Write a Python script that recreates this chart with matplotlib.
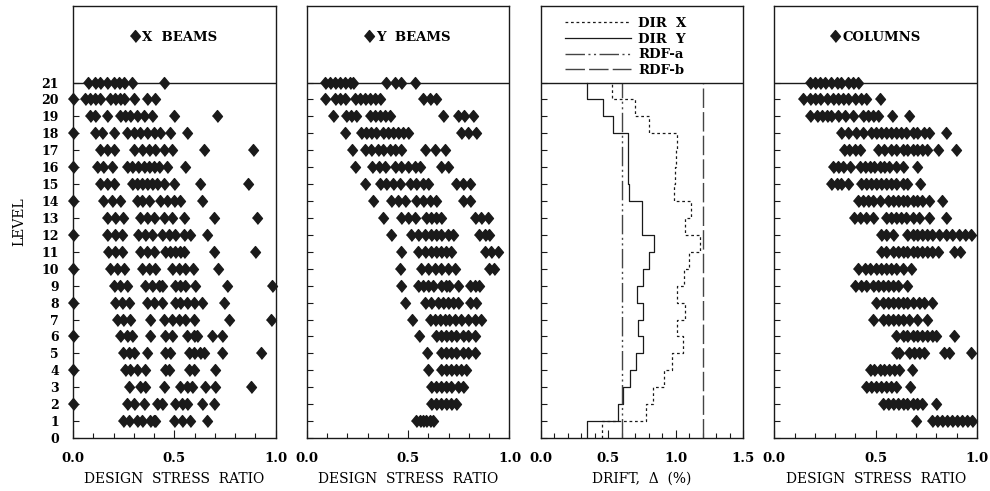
import matplotlib.pyplot as plt
import numpy as np
from matplotlib.ticker import MultipleLocator

plt.rcParams["font.family"] = ["DejaVu Serif", "DejaVu Sans"]
plt.rcParams["font.weight"] = "bold"
plt.rcParams["axes.linewidth"] = 1.0

LEVELS = list(range(1, 22))

# design stress ratio of every member, one list per level (level 1 first)
X_BEAMS = [
    [0.249, 0.274, 0.315, 0.340, 0.381, 0.398, 0.406, 0.497, 0.538, 0.579, 0.662],
    [0.0, 0.266, 0.299, 0.348, 0.414, 0.439, 0.505, 0.538, 0.563, 0.637, 0.695],
    [0.274, 0.332, 0.356, 0.447, 0.530, 0.563, 0.587, 0.653, 0.703, 0.876],
    [0.0, 0.257, 0.282, 0.315, 0.356, 0.455, 0.472, 0.571, 0.596, 0.703],
    [0.249, 0.274, 0.299, 0.365, 0.455, 0.480, 0.571, 0.596, 0.629, 0.645, 0.736, 0.926],
    [0.0, 0.233, 0.266, 0.290, 0.381, 0.455, 0.488, 0.563, 0.596, 0.612, 0.686, 0.736],
    [0.216, 0.249, 0.282, 0.381, 0.447, 0.488, 0.521, 0.554, 0.596, 0.769, 0.975],
    [0.0, 0.208, 0.241, 0.274, 0.365, 0.398, 0.439, 0.505, 0.530, 0.563, 0.596, 0.637, 0.744],
    [0.200, 0.233, 0.266, 0.356, 0.389, 0.422, 0.439, 0.505, 0.530, 0.554, 0.604, 0.761, 0.984],
    [0.0, 0.183, 0.216, 0.252, 0.340, 0.373, 0.406, 0.488, 0.521, 0.554, 0.592, 0.714],
    [0.175, 0.208, 0.241, 0.332, 0.365, 0.398, 0.455, 0.480, 0.505, 0.530, 0.546, 0.695, 0.896],
    [0.0, 0.167, 0.208, 0.241, 0.323, 0.356, 0.389, 0.439, 0.472, 0.505, 0.546, 0.579, 0.662],
    [0.167, 0.208, 0.249, 0.332, 0.365, 0.398, 0.447, 0.488, 0.546, 0.695, 0.906],
    [0.0, 0.150, 0.191, 0.233, 0.315, 0.340, 0.373, 0.431, 0.464, 0.497, 0.530, 0.637],
    [0.134, 0.167, 0.200, 0.290, 0.315, 0.340, 0.365, 0.389, 0.414, 0.447, 0.497, 0.629, 0.863],
    [0.0, 0.117, 0.150, 0.191, 0.266, 0.290, 0.323, 0.348, 0.373, 0.398, 0.422, 0.464, 0.554],
    [0.134, 0.167, 0.200, 0.299, 0.340, 0.373, 0.406, 0.447, 0.488, 0.645, 0.888],
    [0.0, 0.109, 0.142, 0.200, 0.266, 0.299, 0.332, 0.365, 0.398, 0.431, 0.480, 0.563],
    [0.084, 0.109, 0.167, 0.233, 0.257, 0.282, 0.315, 0.348, 0.389, 0.497, 0.711],
    [0.0, 0.059, 0.084, 0.109, 0.134, 0.183, 0.208, 0.233, 0.252, 0.299, 0.365, 0.406],
    [0.076, 0.109, 0.134, 0.167, 0.200, 0.229, 0.252, 0.290, 0.447],
]

Y_BEAMS = [
    [0.540, 0.557, 0.573, 0.589, 0.606, 0.622],
    [0.614, 0.639, 0.664, 0.688, 0.713, 0.737],
    [0.614, 0.639, 0.664, 0.688, 0.713, 0.745, 0.770],
    [0.598, 0.664, 0.688, 0.713, 0.737, 0.762, 0.787],
    [0.593, 0.664, 0.688, 0.713, 0.737, 0.770, 0.795, 0.828],
    [0.552, 0.639, 0.664, 0.688, 0.713, 0.737, 0.770, 0.795, 0.828],
    [0.519, 0.606, 0.631, 0.655, 0.680, 0.704, 0.729, 0.762, 0.795, 0.828, 0.861],
    [0.483, 0.581, 0.614, 0.647, 0.672, 0.696, 0.721, 0.745, 0.803, 0.836],
    [0.463, 0.548, 0.573, 0.598, 0.622, 0.664, 0.688, 0.704, 0.745, 0.803, 0.828, 0.852],
    [0.458, 0.565, 0.598, 0.631, 0.664, 0.696, 0.729, 0.901, 0.926],
    [0.463, 0.548, 0.581, 0.614, 0.639, 0.664, 0.688, 0.713, 0.877, 0.910, 0.942],
    [0.414, 0.516, 0.548, 0.581, 0.614, 0.639, 0.664, 0.696, 0.721, 0.852, 0.877, 0.901],
    [0.376, 0.466, 0.499, 0.532, 0.589, 0.614, 0.639, 0.664, 0.828, 0.861, 0.893],
    [0.327, 0.417, 0.450, 0.483, 0.540, 0.573, 0.606, 0.639, 0.770, 0.803],
    [0.286, 0.360, 0.393, 0.425, 0.458, 0.507, 0.540, 0.573, 0.598, 0.737, 0.770, 0.803],
    [0.240, 0.322, 0.355, 0.384, 0.433, 0.466, 0.499, 0.532, 0.557, 0.664, 0.696],
    [0.223, 0.286, 0.319, 0.351, 0.376, 0.409, 0.433, 0.466, 0.581, 0.631, 0.683],
    [0.191, 0.269, 0.294, 0.319, 0.343, 0.376, 0.401, 0.425, 0.450, 0.475, 0.499, 0.762, 0.795, 0.836],
    [0.130, 0.195, 0.220, 0.245, 0.310, 0.335, 0.360, 0.384, 0.409, 0.672, 0.745, 0.778, 0.819],
    [0.089, 0.138, 0.163, 0.187, 0.236, 0.261, 0.286, 0.310, 0.335, 0.360, 0.573, 0.606, 0.639],
    [0.089, 0.113, 0.138, 0.163, 0.187, 0.212, 0.228, 0.393, 0.433, 0.466, 0.535],
]

COLUMNS = [
    [0.698, 0.780, 0.804, 0.829, 0.853, 0.878, 0.902, 0.927, 0.951, 0.976],
    [0.535, 0.560, 0.584, 0.608, 0.633, 0.657, 0.682, 0.706, 0.728, 0.796],
    [0.453, 0.478, 0.502, 0.527, 0.551, 0.576, 0.600, 0.669],
    [0.470, 0.494, 0.519, 0.543, 0.568, 0.592, 0.617, 0.678],
    [0.600, 0.615, 0.665, 0.690, 0.714, 0.739, 0.837, 0.861, 0.972],
    [0.600, 0.633, 0.657, 0.682, 0.706, 0.731, 0.755, 0.780, 0.799, 0.886],
    [0.486, 0.535, 0.560, 0.584, 0.608, 0.633, 0.665, 0.706, 0.755],
    [0.502, 0.535, 0.560, 0.584, 0.608, 0.633, 0.657, 0.682, 0.714, 0.739, 0.776],
    [0.396, 0.429, 0.453, 0.486, 0.511, 0.535, 0.560, 0.584, 0.608, 0.657],
    [0.413, 0.445, 0.470, 0.502, 0.527, 0.551, 0.576, 0.600, 0.633, 0.674],
    [0.527, 0.551, 0.584, 0.608, 0.633, 0.657, 0.682, 0.706, 0.731, 0.755, 0.780, 0.809, 0.886, 0.918],
    [0.527, 0.551, 0.584, 0.657, 0.682, 0.706, 0.731, 0.755, 0.780, 0.812, 0.845, 0.878, 0.910, 0.943, 0.972],
    [0.391, 0.421, 0.453, 0.486, 0.551, 0.576, 0.600, 0.625, 0.649, 0.682, 0.714, 0.763, 0.845],
    [0.413, 0.437, 0.462, 0.486, 0.519, 0.560, 0.584, 0.608, 0.633, 0.657, 0.682, 0.706, 0.731, 0.763, 0.829],
    [0.282, 0.307, 0.331, 0.364, 0.429, 0.453, 0.478, 0.502, 0.527, 0.551, 0.576, 0.600, 0.633, 0.657, 0.718],
    [0.291, 0.315, 0.340, 0.372, 0.421, 0.445, 0.470, 0.494, 0.519, 0.543, 0.568, 0.600, 0.633, 0.702],
    [0.343, 0.369, 0.396, 0.421, 0.511, 0.543, 0.576, 0.600, 0.633, 0.657, 0.682, 0.706, 0.731, 0.755, 0.809, 0.897],
    [0.331, 0.364, 0.404, 0.437, 0.478, 0.502, 0.527, 0.551, 0.576, 0.600, 0.625, 0.649, 0.682, 0.706, 0.739, 0.763, 0.845],
    [0.176, 0.209, 0.233, 0.258, 0.282, 0.315, 0.348, 0.388, 0.437, 0.462, 0.486, 0.511, 0.581, 0.662],
    [0.140, 0.176, 0.201, 0.225, 0.258, 0.291, 0.315, 0.340, 0.364, 0.396, 0.429, 0.453, 0.519],
    [0.176, 0.201, 0.225, 0.250, 0.282, 0.307, 0.331, 0.364, 0.388, 0.413],
]

# interstory drift (%) of stories 1..21
DRIFT_X = [0.452, 0.779, 0.831, 0.910, 0.972, 1.053, 1.013, 1.071, 1.013, 1.058, 1.095,
           1.177, 1.071, 1.113, 0.990, 0.995, 1.000, 1.010, 0.803, 0.700, 0.527]
DRIFT_Y = [0.341, 0.571, 0.613, 0.662, 0.705, 0.761, 0.724, 0.761, 0.717, 0.761, 0.803,
           0.841, 0.749, 0.749, 0.655, 0.650, 0.645, 0.650, 0.534, 0.460, 0.346]
RDF_A = 0.6
RDF_B = 1.2

INK = "#1a1a1a"
DIAMOND = [(-0.42, 0.0), (0.0, 0.5), (0.42, 0.0), (0.0, -0.5)]
TOP = 25.53


def style_ax(ax, xmax):
    ax.set_xlim(0, xmax)
    ax.set_ylim(0, TOP)
    ax.axhline(21, color=INK, lw=1.0)
    ax.set_yticks(range(0, 22))
    ax.xaxis.set_major_locator(MultipleLocator(0.5))
    ax.xaxis.set_minor_locator(MultipleLocator(0.1))
    ax.xaxis.set_major_formatter(plt.FormatStrFormatter("%.1f"))
    ax.tick_params(which="both", direction="in", color=INK, width=0.8)
    ax.tick_params(axis="x", which="major", length=6, pad=10, labelsize=9.5)
    ax.tick_params(axis="x", which="minor", length=3.5)
    ax.tick_params(axis="y", length=4, pad=10, labelsize=9)
    for s in ax.spines.values():
        s.set_color(INK)


def add_scatter(ax, data, title, ylabels=True):
    for lvl, vals in zip(LEVELS, data):
        ax.plot(vals, [lvl] * len(vals), linestyle="none", marker=DIAMOND,
                ms=8.5, color=INK, clip_on=False)
    ax.plot([], [], linestyle="none", marker=DIAMOND, ms=8.5, color=INK, label=title)
    style_ax(ax, 1.0)
    ax.set_xlabel("DESIGN  STRESS  RATIO", fontsize=10, labelpad=5)
    if not ylabels:
        ax.set_yticklabels([])
    ax.legend(loc="center", bbox_to_anchor=(0.5, 0.928), frameon=False,
              handlelength=0.6, handletextpad=0.25, fontsize=9.5)


fig, axes = plt.subplots(1, 4, figsize=(9.9, 4.91), dpi=100)
fig.subplots_adjust(left=0.0737, right=0.9869, bottom=0.108, top=0.988, wspace=0.153)

add_scatter(axes[0], X_BEAMS, "X  BEAMS")
axes[0].set_ylabel("LEVEL", fontsize=10, labelpad=11)
add_scatter(axes[1], Y_BEAMS, "Y  BEAMS", ylabels=False)
add_scatter(axes[3], COLUMNS, "COLUMNS", ylabels=False)

# drift profiles
ax = axes[2]
story_y = np.repeat(np.arange(0, 22), 2)[1:-1]
ax.plot(np.repeat(DRIFT_X, 2), story_y, color=INK, lw=0.9, linestyle=(0, (2.2, 2.2)), label="DIR  X")
ax.plot(np.repeat(DRIFT_Y, 2), story_y, color=INK, lw=0.9, label="DIR  Y")
ax.plot([RDF_A, RDF_A], [0, 21], color="#444444", lw=1.0,
        linestyle=(0, (14, 2.5, 1.5, 2.5, 1.5, 2.5)), label="RDF-a")
ax.plot([RDF_B, RDF_B], [0, 21], color="#444444", lw=1.0,
        linestyle=(0, (14, 3)), label="RDF-b")
style_ax(ax, 1.5)
ax.set_yticklabels([])
ax.set_xlabel("DRIFT,  \u0394  (%)", fontsize=10, labelpad=5)
ax.legend(loc="center", bbox_to_anchor=(0.42, 0.905), frameon=False,
          handlelength=5.0, handletextpad=0.6, labelspacing=0.2, fontsize=9.5)

fig.savefig("out.png", dpi=100)
